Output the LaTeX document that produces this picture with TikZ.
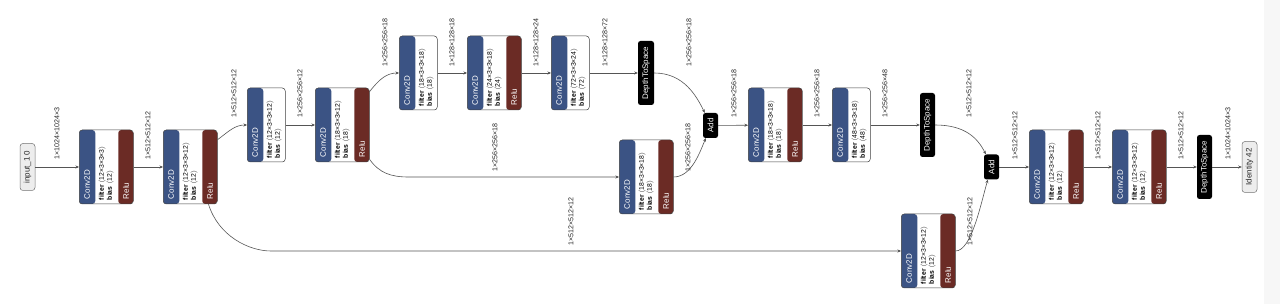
\documentclass[tikz,border=0pt]{standalone}
\usepackage{fontspec}
\setmainfont{Liberation Sans}
\usetikzlibrary{arrows.meta,calc}
\definecolor{cblue}{HTML}{3B5384}
\definecolor{cred}{HTML}{6B2B25}
\definecolor{edgecol}{HTML}{555555}
\tikzset{
  cbox/.style={draw=black!75, line width=0.5pt, rounded corners=3pt, fill=white, minimum height=74pt, inner sep=0pt},
  hdr/.style={rotate=90, anchor=west, inner sep=0pt, text=white, font=\fontsize{8}{9}\selectfont},
  attr/.style={rotate=90, anchor=west, inner sep=0pt, text=black, font=\fontsize{6.8}{8}\selectfont},
  lbl/.style={rotate=90, anchor=west, inner sep=0pt, text=black!85, font=\fontsize{7.1}{8}\selectfont},
  blk/.style={fill=black, rounded corners=2.5pt, inner sep=0pt},
  blktxt/.style={rotate=90, inner sep=0pt, text=white, font=\fontsize{8}{9}\selectfont},
  term/.style={draw=black!55, fill=black!7, line width=0.5pt, rounded corners=3pt, inner sep=0pt},
  termtxt/.style={rotate=90, inner sep=0pt, text=black!85, font=\fontsize{8}{9}\selectfont},
  edge/.style={draw=edgecol, line width=0.6pt, -{Stealth[length=3.5pt,width=3pt,fill=black]}}
}
\newcommand{\ConvR}[5]{%
  \node[cbox, minimum width=54pt, anchor=west,
    path picture={\fill[cblue] (path picture bounding box.north west) rectangle ([xshift=16pt]path picture bounding box.south west);
                  \fill[cred] ([xshift=-15pt]path picture bounding box.north east) rectangle (path picture bounding box.south east);}] (#1) at (#2,#3) {};
  \node[hdr] (#1-h) at ($(#1.south west)+(8,-5)$) {Conv2D};
  \node[attr] (#1-f) at ($(#1.south west)+(23,-4)$) {\textbf{filter}\ \ensuremath{\langle}#4\ensuremath{\rangle}};
  \node[attr] (#1-b) at ($(#1.south west)+(31,-4)$) {\textbf{bias}\ \ensuremath{\langle}#5\ensuremath{\rangle}};
  \node[hdr] (#1-r) at ($(#1.south east)+(-7.5,-5)$) {Relu};
}
\newcommand{\ConvN}[5]{%
  \node[cbox, minimum width=38pt, anchor=west,
    path picture={\fill[cblue] (path picture bounding box.north west) rectangle ([xshift=16pt]path picture bounding box.south west);}] (#1) at (#2,#3) {};
  \node[hdr] (#1-h) at ($(#1.south west)+(8,-5)$) {Conv2D};
  \node[attr] (#1-f) at ($(#1.south west)+(23,-4)$) {\textbf{filter}\ \ensuremath{\langle}#4\ensuremath{\rangle}};
  \node[attr] (#1-b) at ($(#1.south west)+(31,-4)$) {\textbf{bias}\ \ensuremath{\langle}#5\ensuremath{\rangle}};
}
\begin{document}
\begin{tikzpicture}[x=1pt,y=-1pt]
\useasboundingbox (0,0) rectangle (1280,304);
\fill[white] (0,0) rectangle (1280,304);
\fill[black!3] (1264,0) rectangle (1280,304);

% terminals
\node[term, minimum width=15pt, minimum height=47pt] (in) at (27.5,167) {};
\node[termtxt] (in-t) at (in) {input\_1 0};
\node[term, minimum width=15pt, minimum height=51pt] (id) at (1249.5,167) {};
\node[termtxt] (id-t) at (id) {Identity 42};

% conv nodes
\ConvR{c1}{79}{167}{12×3×3×3}{12}
\ConvR{c2}{163}{167}{12×3×3×12}{12}
\ConvN{c3}{247}{125}{12×3×3×12}{12}
\ConvR{c4}{315}{125}{18×3×3×12}{18}
\ConvN{c5}{399}{73}{18×3×3×18}{18}
\ConvR{c6}{467}{73}{24×3×3×18}{24}
\ConvN{c7}{551}{73}{72×3×3×24}{72}
\ConvR{c8}{619}{177}{18×3×3×18}{18}
\ConvR{c9}{748}{125}{18×3×3×18}{18}
\ConvN{c10}{832}{125}{48×3×3×18}{48}
\ConvR{c11}{901}{251}{12×3×3×12}{12}
\ConvR{c12}{1029}{167}{12×3×3×12}{12}
\ConvR{c13}{1112}{167}{12×3×3×12}{12}

% black op nodes
\node[blk, minimum width=16pt, minimum height=64pt] (d1) at (646,73) {};
\node[blktxt] (d1-t) at (d1) {DepthToSpace};
\node[blk, minimum width=15pt, minimum height=64pt] (d2) at (927.5,125) {};
\node[blktxt] (d2-t) at (d2) {DepthToSpace};
\node[blk, minimum width=15pt, minimum height=64pt] (d3) at (1204.5,167) {};
\node[blktxt] (d3-t) at (d3) {DepthToSpace};
\node[blk, minimum width=15pt, minimum height=25pt] (a1) at (710.5,125.5) {};
\node[blktxt] (a1-t) at (a1) {Add};
\node[blk, minimum width=15pt, minimum height=25pt] (a2) at (991.5,167) {};
\node[blktxt] (a2-t) at (a2) {Add};

% edges
\draw[edge] (in) -- (c1);
\draw[edge] (c1) -- (c2);
\draw[edge] ($(c2.north east)+(0,10)$) .. controls +(12,-9) and +(-12,0) .. (c3.west);
\draw[edge] ($(c2.south east)+(-9,0)$) .. controls +(10,32) and +(-22,0) .. ($(c11.west)+(-630,0)$) -- (c11.west);
\draw[edge] (c3) -- (c4);
\draw[edge] ($(c4.north east)+(0,4)$) .. controls +(10,-13) and +(-12,0) .. (c5.west);
\draw[edge] ($(c4.south east)+(0,-3)$) .. controls +(10,14) and +(-18,0) .. ($(c8.west)+(-210,0)$) -- (c8.west);
\draw[edge] (c5) -- (c6);
\draw[edge] (c6) -- (c7);
\draw[edge] (c7) -- (d1);
\draw[edge] (d1.east) .. controls +(30,0) and +(-8,-16) .. ($(a1.north west)+(2,0)$);
\draw[edge] (c8.east) .. controls +(18,0) and +(-6,14) .. ($(a1.south west)+(3,0)$);
\draw[edge] (a1) -- (c9);
\draw[edge] (c9) -- (c10);
\draw[edge] (c10) -- (d2);
\draw[edge] (d2.east) .. controls +(30,0) and +(-8,-16) .. ($(a2.north west)+(2,0)$);
\draw[edge] (c11.east) .. controls +(16,0) and +(-7,24) .. ($(a2.south west)+(4,0)$);
\draw[edge] (a2) -- (c12);
\draw[edge] (c12) -- (c13);
\draw[edge] (c13) -- (d3);
\draw[edge] (d3) -- (id);

% edge labels
\node[lbl] (l1) at (57,160) {1×1024×1024×3};
\node[lbl] (l2) at (148,160) {1×512×512×12};
\node[lbl] (l3) at (234,118) {1×512×512×12};
\node[lbl] (l4) at (300,118) {1×256×256×12};
\node[lbl] (l5) at (385,67) {1×256×256×18};
\node[lbl] (l6) at (495,172) {1×256×256×18};
\node[lbl] (l7) at (452,67) {1×128×128×18};
\node[lbl] (l8) at (536,67) {1×128×128×24};
\node[lbl] (l9) at (605,67) {1×128×128×72};
\node[lbl] (l10) at (689,67) {1×256×256×18};
\node[lbl] (l11) at (688,172) {1×256×256×18};
\node[lbl] (l12) at (734,118) {1×256×256×18};
\node[lbl] (l13) at (817,118) {1×256×256×18};
\node[lbl] (l14) at (885,118) {1×256×256×48};
\node[lbl] (l15) at (969,118) {1×512×512×12};
\node[lbl] (l16) at (970,246) {1×512×512×12};
\node[lbl] (l17) at (571,246) {1×512×512×12};
\node[lbl] (l18) at (1015,160) {1×512×512×12};
\node[lbl] (l19) at (1098,160) {1×512×512×12};
\node[lbl] (l20) at (1181,160) {1×512×512×12};
\node[lbl] (l21) at (1228,160) {1×1024×1024×3};
\end{tikzpicture}
\end{document}
